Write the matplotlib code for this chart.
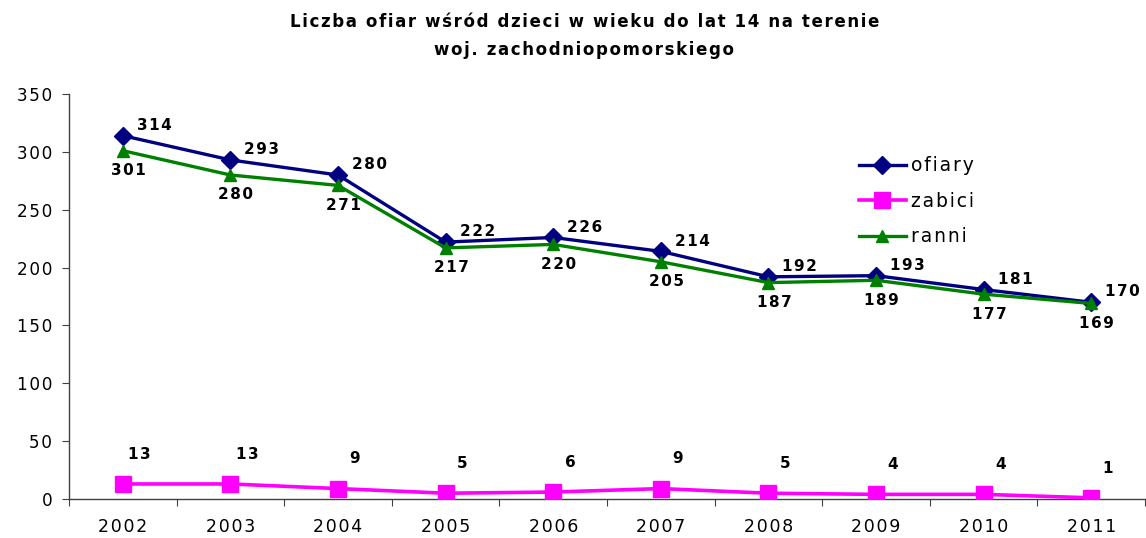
import matplotlib
matplotlib.use("Agg")
import matplotlib.pyplot as plt
import numpy as np

years = ["2002", "2003", "2004", "2005", "2006", "2007", "2008", "2009", "2010", "2011"]
ofiary = [314, 293, 280, 222, 226, 214, 192, 193, 181, 170]
zabici = [13, 13, 9, 5, 6, 9, 5, 4, 4, 1]
ranni = [301, 280, 271, 217, 220, 205, 187, 189, 177, 169]
series_names = ["ofiary", "zabici", "ranni"]
title_lines = ["Liczba ofiar wśród dzieci w wieku do lat 14 na terenie",
               "woj. zachodniopomorskiego"]

HS = "\u200a"  # hair space for letter spacing


def spaced(s):
    return HS.join(s)


plt.rcParams['font.family'] = ['DejaVu Sans']

fig = plt.figure(figsize=(11.46, 5.38), dpi=100)
ax = fig.add_axes([0.0602, 0.0725, 0.939, 0.7528])

x = np.arange(len(years))
ax.plot(x, ofiary, color="#000080", lw=2.4, marker="D", ms=9.5, label=spaced(series_names[0]), zorder=3)
ax.plot(x, zabici, color="#FF00FF", lw=2.6, marker="s", ms=12, label=spaced(series_names[1]), zorder=3)
ax.plot(x, ranni, color="#008000", lw=2.4, marker="^", ms=9, label=spaced(series_names[2]), zorder=4)

lab_kw = dict(fontsize=11, fontweight="bold", textcoords="offset points")
for xi, v in zip(x, ofiary):
    ax.annotate(spaced(str(v)), (xi, v), xytext=(10, 2), ha="left", va="bottom", **lab_kw)
for xi, v in zip(x, ranni):
    ax.annotate(spaced(str(v)), (xi, v), xytext=(4, -9), ha="center", va="top", **lab_kw)
for xi, v in zip(x, zabici):
    ax.annotate(spaced(str(v)), (xi, v), xytext=(12, 16), ha="center", va="bottom", **lab_kw)

ax.set_xlim(-0.5, len(years) - 0.5)
ax.set_ylim(0, 350)
yt = np.arange(0, 351, 50)
ax.set_yticks(yt)
ax.set_yticklabels([spaced(str(v)) for v in yt])
ax.set_xticks(np.arange(-0.5, len(years), 1.0))
ax.set_xticklabels([])
ax.set_xticks(x, minor=True)
ax.set_xticklabels([spaced(y) for y in years], minor=True)
ax.tick_params(axis="x", which="major", length=5, direction="out", color="#404040")
ax.tick_params(axis="x", which="minor", length=0, pad=14, labelsize=12.5)
ax.tick_params(axis="y", length=5, direction="out", color="#404040", labelsize=12.2, pad=7)

for s in ["top", "right"]:
    ax.spines[s].set_visible(False)
for s in ["left", "bottom"]:
    ax.spines[s].set_color("#404040")
    ax.spines[s].set_linewidth(1.0)

leg = ax.legend(loc="upper left", bbox_to_anchor=(0.727, 0.865), frameon=False,
                fontsize=13.5, handlelength=2.5, handletextpad=0.3, labelspacing=0.88,
                borderaxespad=0)

fig.text(0.51, 0.975, spaced(title_lines[0]) + "\n" + spaced(title_lines[1]),
         ha="center", va="top", fontsize=12, fontweight="bold", linespacing=1.7)

fig.savefig("out.png", dpi=100)
